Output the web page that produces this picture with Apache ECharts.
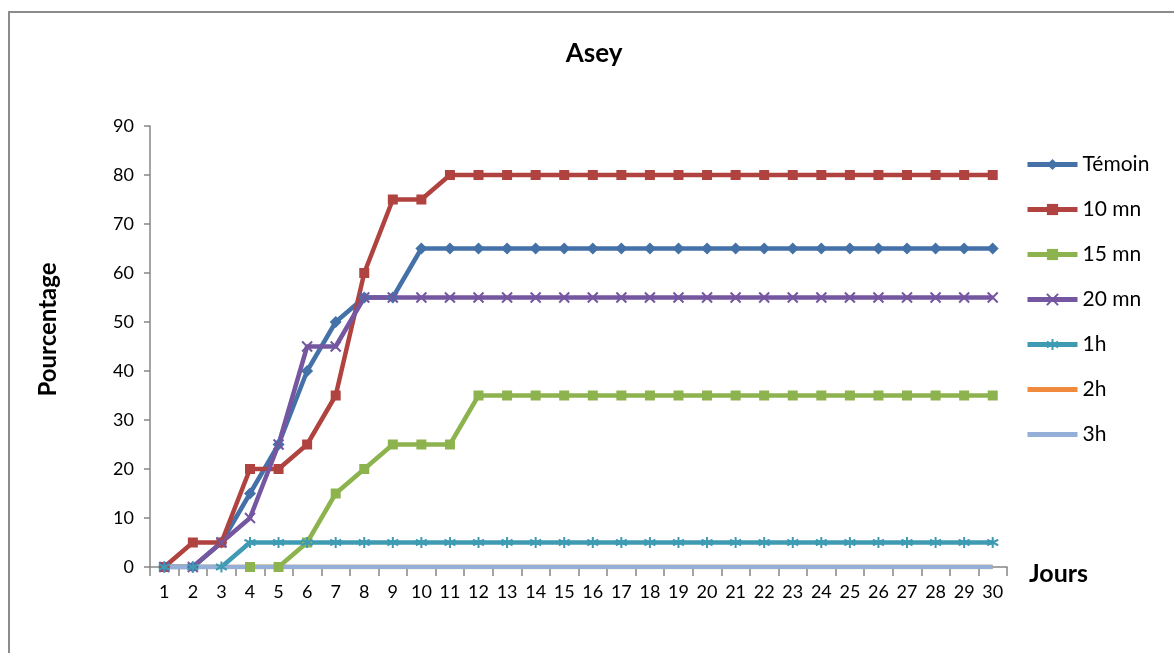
<!DOCTYPE html>
<html>
<head>
<meta charset="utf-8">
<style>
  html, body { margin: 0; padding: 0; width: 1174px; height: 653px; overflow: hidden; background: #fff; }
  #frame { position: absolute; left: 8px; top: 11px; width: 1200px; height: 700px; border: 2px solid #8c8c8c; box-sizing: border-box; }
  #chart { position: absolute; left: 0; top: 0; width: 1174px; height: 653px; }
</style>
<script src="https://cdn.jsdelivr.net/npm/echarts@6/dist/echarts.min.js"></script>
</head>
<body>
<div id="frame"></div>
<div id="chart"></div>
<script>
// Days 1..30
const days = Array.from({ length: 30 }, (_, i) => String(i + 1));
const yTicks = [0, 10, 20, 30, 40, 50, 60, 70, 80, 90];

// Percentages per treatment
const temoin = [0, 0, 5, 15, 25, 40, 50, 55, 55, 65, 65, 65, 65, 65, 65, 65, 65, 65, 65, 65, 65, 65, 65, 65, 65, 65, 65, 65, 65, 65];
const mn10   = [0, 5, 5, 20, 20, 25, 35, 60, 75, 75, 80, 80, 80, 80, 80, 80, 80, 80, 80, 80, 80, 80, 80, 80, 80, 80, 80, 80, 80, 80];
const mn15   = [null, null, null, 0, 0, 5, 15, 20, 25, 25, 25, 35, 35, 35, 35, 35, 35, 35, 35, 35, 35, 35, 35, 35, 35, 35, 35, 35, 35, 35];
const mn20   = [0, 0, 5, 10, 25, 45, 45, 55, 55, 55, 55, 55, 55, 55, 55, 55, 55, 55, 55, 55, 55, 55, 55, 55, 55, 55, 55, 55, 55, 55];
const h1     = [0, 0, 0, 5, 5, 5, 5, 5, 5, 5, 5, 5, 5, 5, 5, 5, 5, 5, 5, 5, 5, 5, 5, 5, 5, 5, 5, 5, 5, 5];
const h2     = [0, 0, 0, 0, 0, 0, 0, 0, 0, 0, 0, 0, 0, 0, 0, 0, 0, 0, 0, 0, 0, 0, 0, 0, 0, 0, 0, 0, 0, 0];
const h3     = [0, 0, 0, 0, 0, 0, 0, 0, 0, 0, 0, 0, 0, 0, 0, 0, 0, 0, 0, 0, 0, 0, 0, 0, 0, 0, 0, 0, 0, 0];

const FONT = 'Lato, "Open Sans", sans-serif';
const X_MARK = 'path://M0,0L10,10M10,0L0,10';
const STAR_MARK = 'path://M5,0L5,10M0,2.5L10,7.5M0,7.5L10,2.5';
// plain bar used as the legend key of the marker-less series (box 50 x 14)
const BAR_KEY = 'path://M0,0L0,0.01M50,14L50,13.99M0,4.5L50,4.5L50,9.5L0,9.5Z';

function lineSeries(name, data, color, symbol, size, stroked) {
  return {
    name: name,
    type: 'line',
    data: data,
    symbol: symbol,
    symbolSize: size,
    showSymbol: symbol !== 'none',
    connectNulls: false,
    animation: false,
    lineStyle: { color: color, width: 4.5 },
    itemStyle: stroked
      ? { color: color, borderColor: color, borderWidth: 2 }
      : { color: color },
    emphasis: { disabled: true }
  };
}

const chart = echarts.init(document.getElementById('chart'), null, { renderer: 'canvas' });
chart.setOption({
  backgroundColor: 'transparent',
  title: {
    text: 'Asey',
    left: 589,
    textAlign: 'center',
    top: 36,
    textStyle: { fontFamily: FONT, fontSize: 26, fontWeight: 'bold', color: '#000' }
  },
  legend: {
    orient: 'vertical',
    left: 1025,
    top: 154,
    padding: 0,
    itemWidth: 50,
    itemHeight: 14,
    itemGap: 24,
    lineStyle: { width: 5 },
    textStyle: { fontFamily: FONT, fontSize: 21, color: '#000' },
    data: [
      'Témoin', '10 mn', '15 mn', '20 mn', '1h',
      { name: '2h', icon: BAR_KEY },
      { name: '3h', icon: BAR_KEY }
    ]
  },
  grid: { left: 150, right: 167, top: 126, bottom: 86, containLabel: false },
  xAxis: {
    type: 'category',
    data: days,
    boundaryGap: true,
    name: 'Jours',
    nameLocation: 'end',
    nameGap: 22,
    nameTextStyle: { fontFamily: FONT, fontSize: 25, fontWeight: 'bold', color: '#000', verticalAlign: 'top', lineHeight: 14 },
    axisLine: { lineStyle: { color: '#868686', width: 1.5 } },
    axisTick: { show: true, alignWithLabel: false, length: 9, lineStyle: { color: '#868686', width: 1.5 } },
    axisLabel: { interval: 0, margin: 16, fontFamily: FONT, fontSize: 18, color: '#000' },
    splitLine: { show: false }
  },
  yAxis: {
    type: 'value',
    min: yTicks[0],
    max: yTicks[yTicks.length - 1],
    interval: 10,
    name: 'Pourcentage',
    nameLocation: 'middle',
    nameRotate: 90,
    nameGap: 90,
    nameTextStyle: { fontFamily: FONT, fontSize: 24, fontWeight: 'bold', color: '#000', padding: [0, 0, 0, 34] },
    axisLine: { show: true, lineStyle: { color: '#868686', width: 1.5 } },
    axisTick: { show: true, length: 6, lineStyle: { color: '#868686', width: 1.5 } },
    axisLabel: { margin: 16, fontFamily: FONT, fontSize: 18, color: '#000' },
    splitLine: { show: false }
  },
  series: [
    lineSeries('Témoin', temoin, '#4472A8', 'diamond', 12, false),
    lineSeries('10 mn', mn10, '#B0433F', 'rect', 10, false),
    lineSeries('15 mn', mn15, '#8DB34E', 'rect', 10, false),
    lineSeries('20 mn', mn20, '#7556A0', X_MARK, 10, true),
    lineSeries('1h', h1, '#3E9BB3', STAR_MARK, 11, true),
    lineSeries('2h', h2, '#F08A3C', 'none', 0, false),
    lineSeries('3h', h3, '#95B0D8', 'none', 0, false)
  ]
});
</script>
</body>
</html>
